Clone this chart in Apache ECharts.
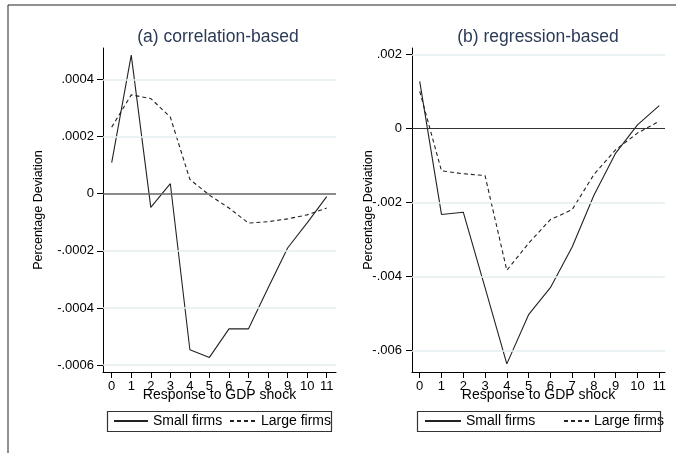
<!DOCTYPE html>
<html>
<head>
<meta charset="utf-8">
<script src="https://cdn.jsdelivr.net/npm/echarts@6/dist/echarts.min.js"></script>
<style>
html,body{margin:0;padding:0;background:#fff;}
#c{width:676px;height:453px;}
</style>
</head>
<body>
<div id="c"></div>
<script>
// ---- data ----
var steps = [0,1,2,3,4,5,6,7,8,9,10,11];
var smallCorr = [0.000109, 0.000485, -0.000048, 0.000035, -0.000546, -0.000573, -0.000473, -0.000473, -0.00033, -0.00019, -0.000102, -0.00001];
var largeCorr = [0.000233, 0.000346, 0.000333, 0.000268, 0.00005, -0.000005, -0.00005, -0.000103, -0.000098, -0.000088, -0.000074, -0.00005];
var smallReg = [0.00128, -0.00232, -0.00226, -0.0043, -0.00636, -0.00503, -0.0043, -0.0032, -0.0018, -0.00066, 0.0001, 0.00062];
var largeReg = [0.00101, -0.00114, -0.00122, -0.00127, -0.00383, -0.0031, -0.00246, -0.00219, -0.00124, -0.00057, -0.00012, 0.0002];
var yTicksCorr = [-0.0006, -0.0004, -0.0002, 0, 0.0002, 0.0004];
var yTicksReg = [-0.006, -0.004, -0.002, 0, 0.002];
var titles = ['(a) correlation-based', '(b) regression-based'];
var seriesNames = ['Small firms', 'Large firms'];
var xName = 'Response to GDP shock';
var yName = 'Percentage Deviation';

var FONT = '"Liberation Sans", Arial, sans-serif';

function fmt(v) {
  if (Math.abs(v) < 1e-12) return '0';
  var s = Math.abs(v).toFixed(4).replace(/0+$/, '').replace(/^0/, '');
  return (v < 0 ? '-' : '') + s;
}
function pairs(ys) { return steps.map(function (x, i) { return [x, ys[i]]; }); }

function gridMarks(ticks, zeroColor, zeroWidth) {
  var grid = ticks.filter(function (t) { return t !== 0; });
  return {
    silent: true, symbol: ['none', 'none'], animation: false, precision: 12,
    label: { show: false },
    data: grid.map(function (t) {
      return { yAxis: t, lineStyle: { color: '#e4eef0', width: 1.5, type: 'solid' } };
    }).concat([{ yAxis: 0, lineStyle: { color: zeroColor, width: zeroWidth, type: 'solid' } }])
  };
}

function xAxisCfg(idx, min, max) {
  return {
    gridIndex: idx, type: 'value', min: min, max: max,
    name: xName, nameLocation: 'middle', nameGap: 16, nameMoveOverlap: false,
    nameTextStyle: { color: '#000', fontSize: 14, fontFamily: FONT },
    axisLine: { show: true, onZero: false, lineStyle: { color: '#000', width: 1 } },
    axisTick: { show: true, length: 6, customValues: steps, lineStyle: { color: '#000' } },
    axisLabel: { show: true, customValues: steps, margin: 8, color: '#000', fontSize: 13, fontFamily: FONT,
      showMinLabel: true, showMaxLabel: true },
    splitLine: { show: false }
  };
}
function yAxisCfg(idx, min, max, ticks, gap, margin) {
  return {
    gridIndex: idx, type: 'value', min: min, max: max,
    name: yName, nameLocation: 'middle', nameGap: gap, nameMoveOverlap: false,
    nameTextStyle: { color: '#000', fontSize: 12.5, fontFamily: FONT },
    axisLine: { show: true, onZero: false, lineStyle: { color: '#000', width: 1 } },
    axisTick: { show: true, length: 6, customValues: ticks, lineStyle: { color: '#000' } },
    axisLabel: { show: true, customValues: ticks, margin: margin, color: '#000', fontSize: 13, fontFamily: FONT,
      formatter: fmt },
    splitLine: { show: false }
  };
}
function lineSeries(name, idx, ys, dashed, marks) {
  var s = {
    name: name, type: 'line', xAxisIndex: idx, yAxisIndex: idx,
    data: pairs(ys), symbol: 'none', showSymbol: false, animation: false,
    lineStyle: { color: '#222', width: 1.1, type: dashed ? [4, 3] : 'solid' },
    itemStyle: { color: '#222' }, z: 3
  };
  if (marks) s.markLine = marks;
  return s;
}
function legendCfg(name, left, w) {
  return {
    data: [name], left: left, top: 414, padding: 0,
    itemWidth: w, itemHeight: 14, selectedMode: false,
    itemStyle: { opacity: 0, color: 'rgba(0,0,0,0)', borderWidth: 0 },
    textStyle: { color: '#000', fontSize: 14, fontFamily: FONT }
  };
}

var chart = echarts.init(document.getElementById('c'), null, { renderer: 'canvas' });
chart.setOption({
  backgroundColor: '#fff',
  animation: false,
  title: [
    { text: titles[0], left: 218, top: 28, textAlign: 'center', padding: 0,
      textStyle: { color: '#2b3a55', fontSize: 17.5, fontWeight: 'normal', fontFamily: FONT } },
    { text: titles[1], left: 538, top: 28, textAlign: 'center', padding: 0,
      textStyle: { color: '#2b3a55', fontSize: 17.5, fontWeight: 'normal', fontFamily: FONT } }
  ],
  grid: [
    { left: 103, top: 48, width: 233, height: 324 },
    { left: 412, top: 48, width: 253, height: 324 }
  ],
  xAxis: [ xAxisCfg(0, -0.445, 11.476), xAxisCfg(1, -0.354, 11.264) ],
  yAxis: [
    yAxisCfg(0, -0.000624, 0.00051, yTicksCorr, 58, 9),
    yAxisCfg(1, -0.00658, 0.00218, yTicksReg, 37, 10)
  ],
  legend: [
    legendCfg(seriesNames[0], 113, 34),
    legendCfg(seriesNames[1], 229, 26),
    legendCfg(seriesNames[0], 424, 36),
    legendCfg(seriesNames[1], 563, 25)
  ],
  series: [
    lineSeries(seriesNames[0], 0, smallCorr, false, gridMarks(yTicksCorr, '#666', 1.6)),
    lineSeries(seriesNames[1], 0, largeCorr, true),
    lineSeries(seriesNames[0], 1, smallReg, false, gridMarks(yTicksReg, '#333', 1.2)),
    lineSeries(seriesNames[1], 1, largeReg, true)
  ],
  graphic: [
    { type: 'line', shape: { x1: 8, y1: 5, x2: 676, y2: 5 }, style: { stroke: '#222', lineWidth: 1 } },
    { type: 'line', shape: { x1: 8, y1: 5, x2: 8, y2: 453 }, style: { stroke: '#222', lineWidth: 1 } },
    { type: 'rect', shape: { x: 107.5, y: 411.5, width: 224, height: 20 }, style: { fill: 'none', stroke: '#333', lineWidth: 1.2 }, z: 10 },
    { type: 'rect', shape: { x: 417.5, y: 411.5, width: 243, height: 20 }, style: { fill: 'none', stroke: '#333', lineWidth: 1.2 }, z: 10 }
  ]
});
</script>
</body>
</html>
